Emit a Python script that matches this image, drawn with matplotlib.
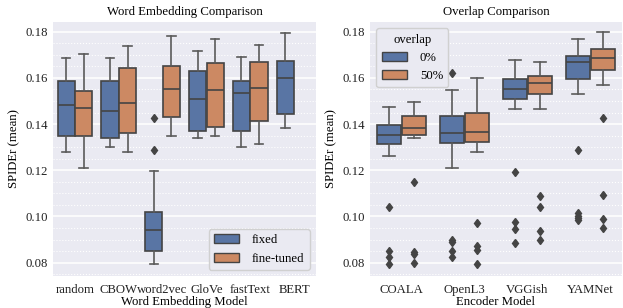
import matplotlib.pyplot as plt
from matplotlib.patches import Patch

plt.rcParams['font.family'] = ['Liberation Serif', 'DejaVu Serif']

# Word embedding comparison (box stats: whislo, q1, median, q3, whishi)
emb_models = ["random", "CBOW", "word2vec", "GloVe", "fastText", "BERT"]
fixed_lo = [0.1280, 0.1301, 0.0793, 0.1338, 0.1300, 0.1384]
fixed_q1 = [0.1350, 0.1341, 0.0849, 0.1370, 0.1371, 0.1442]
fixed_med = [0.1484, 0.1457, 0.0940, 0.1507, 0.1533, 0.1601]
fixed_q3 = [0.1587, 0.1585, 0.1018, 0.1629, 0.1585, 0.1673]
fixed_hi = [0.1685, 0.1687, 0.1196, 0.1715, 0.1692, 0.1796]
fixed_fliers = [[], [], [0.1425, 0.1288], [], [], []]

fine_lo = [0.1209, 0.1279, 0.1349, 0.1347, 0.1313, None]
fine_q1 = [0.1350, 0.1360, 0.1429, 0.1389, 0.1413, None]
fine_med = [0.1468, 0.1490, 0.1550, 0.1546, 0.1558, None]
fine_q3 = [0.1542, 0.1642, 0.1653, 0.1663, 0.1669, None]
fine_hi = [0.1705, 0.1738, 0.1781, 0.1768, 0.1741, None]
fine_fliers = [[], [], [], [], [], []]

# Overlap comparison
enc_models = ["COALA", "OpenL3", "VGGish", "YAMNet"]
ov0_lo = [0.1262, 0.1209, 0.1465, 0.1532]
ov0_q1 = [0.1313, 0.1320, 0.1507, 0.1594]
ov0_med = [0.1354, 0.1360, 0.1553, 0.1669]
ov0_q3 = [0.1395, 0.1434, 0.1594, 0.1693]
ov0_hi = [0.1473, 0.1549, 0.1678, 0.1767]
ov0_fliers = [[0.1040, 0.0852, 0.0823, 0.0794],
              [0.1621, 0.0900, 0.0890, 0.0849, 0.0823],
              [0.1194, 0.0977, 0.0946, 0.0885],
              [0.1289, 0.1014, 0.1004, 0.0994, 0.0985]]

ov50_lo = [0.1340, 0.1279, 0.1465, 0.1568]
ov50_q1 = [0.1354, 0.1324, 0.1532, 0.1634]
ov50_med = [0.1383, 0.1364, 0.1577, 0.1685]
ov50_q3 = [0.1436, 0.1449, 0.1610, 0.1724]
ov50_hi = [0.1497, 0.1601, 0.1667, 0.1797]
ov50_fliers = [[0.1147, 0.0846, 0.0838, 0.0797],
               [0.0973, 0.0872, 0.0855, 0.0793],
               [0.1089, 0.1042, 0.0936, 0.0898],
               [0.1425, 0.1093, 0.0989, 0.0952]]

blue = '#5975a4'
orange = '#cc8963'
line_c = '#444444'
whisk_c = '#5a5a5a'
bg = '#eaeaf2'
fs = 9.2


def make_stats(lo, q1, med, q3, hi, fliers):
    stats = []
    for i in range(len(lo)):
        if lo[i] is None:
            stats.append(None)
            continue
        stats.append(dict(whislo=lo[i], q1=q1[i], med=med[i], q3=q3[i],
                          whishi=hi[i], fliers=fliers[i]))
    return stats


def draw_group(ax, stats, offset, color):
    pos = [i + offset for i, s in enumerate(stats) if s is not None]
    st = [s for s in stats if s is not None]
    ax.bxp(st, positions=pos, widths=0.39, patch_artist=True, manage_ticks=False,
           boxprops=dict(facecolor=color, edgecolor=line_c, linewidth=1.2),
           medianprops=dict(color=line_c, linewidth=1.2),
           whiskerprops=dict(color=whisk_c, linewidth=1.2),
           capprops=dict(color=whisk_c, linewidth=1.2),
           flierprops=dict(marker='d', markerfacecolor=line_c, markeredgecolor=line_c,
                           markersize=4.5))


def style_axes(ax, labels):
    ax.set_facecolor(bg)
    for s in ax.spines.values():
        s.set_visible(False)
    ax.set_axisbelow(True)
    ax.set_yticks([0.08, 0.10, 0.12, 0.14, 0.16, 0.18])
    ax.set_yticks([0.075 + 0.005 * k for k in range(23) if round((0.075 + 0.005 * k) * 1000) % 20 != 0],
                  minor=True)
    ax.grid(True, which='major', axis='y', color='white', linewidth=1.1)
    ax.grid(True, which='minor', axis='y', color='white', linewidth=0.8, linestyle=':')
    ax.tick_params(axis='both', which='both', length=0, labelsize=fs, colors='#222222')
    ax.tick_params(axis='x', pad=6)
    ax.set_xticks(range(len(labels)))
    ax.set_xticklabels(labels)
    ax.set_xlim(-0.5, len(labels) - 0.5)
    ax.set_ylim(0.0742, 0.1842)
    ax.set_ylabel('SPIDEr (mean)', fontsize=fs)


fig = plt.figure(figsize=(6.23, 3.08), dpi=100)
ax1 = fig.add_axes([53 / 623, 32 / 308, 263 / 623, 254 / 308])
ax2 = fig.add_axes([370 / 623, 32 / 308, 252 / 623, 254 / 308])

draw_group(ax1, make_stats(fixed_lo, fixed_q1, fixed_med, fixed_q3, fixed_hi, fixed_fliers), -0.2, blue)
draw_group(ax1, make_stats(fine_lo, fine_q1, fine_med, fine_q3, fine_hi, fine_fliers), 0.2, orange)
style_axes(ax1, emb_models)
ax1.set_title('Word Embedding Comparison', fontsize=fs, pad=5)
ax1.set_xlabel('Word Embedding Model', fontsize=fs, labelpad=0)
ax1.legend(handles=[Patch(facecolor=blue, edgecolor=line_c, label='fixed'),
                    Patch(facecolor=orange, edgecolor=line_c, label='fine-tuned')],
           loc='lower right', fontsize=fs, facecolor=bg, edgecolor='#d0d0d0', framealpha=1,
           handletextpad=1.0)

draw_group(ax2, make_stats(ov0_lo, ov0_q1, ov0_med, ov0_q3, ov0_hi, ov0_fliers), -0.2, blue)
draw_group(ax2, make_stats(ov50_lo, ov50_q1, ov50_med, ov50_q3, ov50_hi, ov50_fliers), 0.2, orange)
style_axes(ax2, enc_models)
ax2.set_title('Overlap Comparison', fontsize=fs, pad=5)
ax2.set_xlabel('Encoder Model', fontsize=fs, labelpad=0)
ax2.legend(handles=[Patch(facecolor=blue, edgecolor=line_c, label='0%'),
                    Patch(facecolor=orange, edgecolor=line_c, label='50%')],
           loc='upper left', title='overlap', fontsize=fs, title_fontsize=fs,
           facecolor=bg, edgecolor='#d0d0d0', framealpha=1, handletextpad=1.0)

fig.savefig('out.png', dpi=100)
